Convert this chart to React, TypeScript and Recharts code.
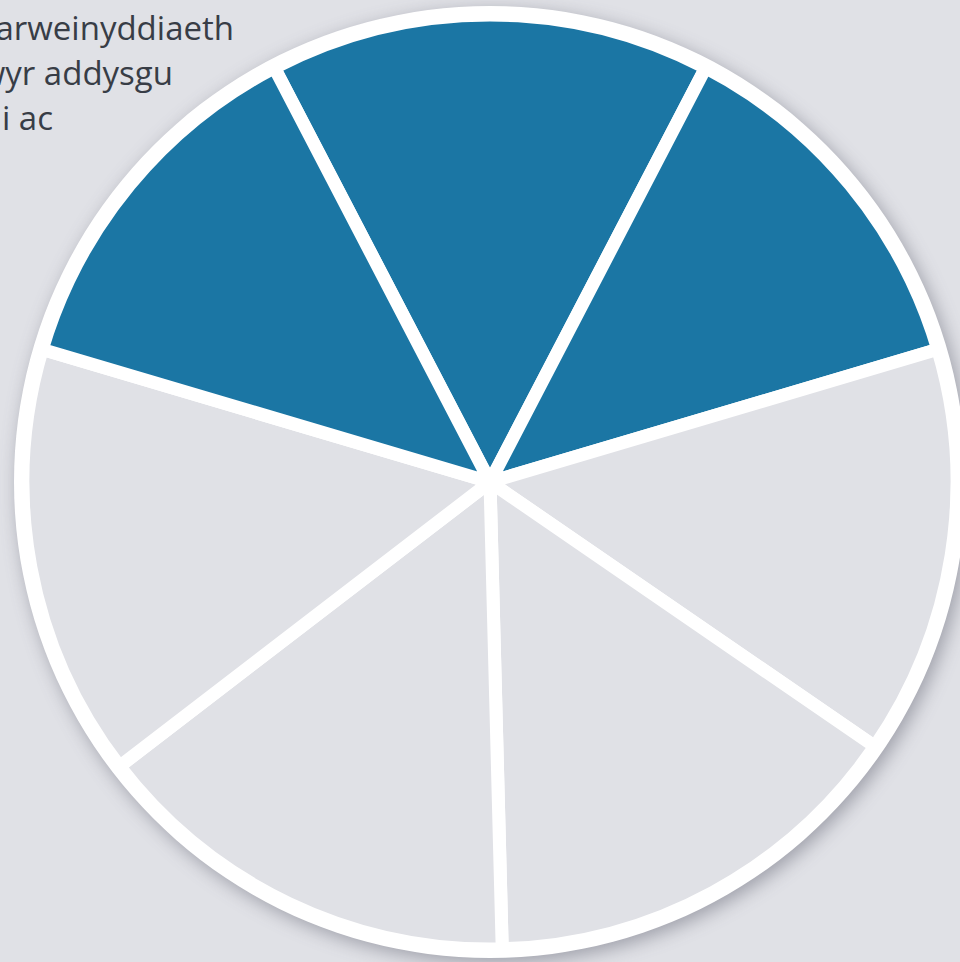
import { PieChart, Pie, Cell } from 'recharts'

// slice sizes in degrees, clockwise from the top-left blue boundary
const slices = ['top', 'upperRight', 'right', 'lowerRight', 'lowerLeft', 'left', 'upperLeft']
const sliceValues = [55, 46, 51, 54, 54, 54, 46]
const highlighted = [true, true, false, false, false, false, true]
const captionLines = ['arweinyddiaeth', 'wyr addysgu', 'i ac']
const captionEnds = [234, 173, 53]

const BLUE = '#1b76a4'
const GREY = '#e0e1e6'

const data = slices.map((name, i) => ({ name, value: sliceValues[i], hi: highlighted[i] }))
const disc = [{ name: 'disc', value: 1 }]

export default function App() {
  return (
    <div
      style={{
        position: 'fixed',
        left: 0,
        top: 0,
        width: 960,
        height: 962,
        background: GREY,
        overflow: 'hidden',
      }}
    >
      {captionLines.map((t, i) => (
        <div
          key={i}
          style={{
            position: 'absolute',
            right: 960 - captionEnds[i],
            top: 5 + i * 45,
            whiteSpace: 'nowrap',
            fontFamily: '"Open Sans", sans-serif',
            fontSize: 33,
            lineHeight: '45px',
            color: '#383d46',
          }}
        >
          {t}
        </div>
      ))}
      <div style={{ position: 'absolute', left: 0, top: 0, filter: 'drop-shadow(4px 5px 9px rgba(60,62,80,0.4))' }}>
        <PieChart width={960} height={962} margin={{ top: 0, right: 0, bottom: 0, left: 0 }}>
          <Pie
            data={disc}
            dataKey="value"
            cx={490}
            cy={482}
            innerRadius={0}
            outerRadius={476}
            fill="#ffffff"
            stroke="none"
            isAnimationActive={false}
          />
          <Pie
            data={data}
            dataKey="value"
            cx={490}
            cy={482}
            innerRadius={0}
            outerRadius={467}
            startAngle={117.5}
            endAngle={117.5 - 360}
            stroke="#ffffff"
            strokeWidth={13}
            isAnimationActive={false}
          >
            {data.map((d, i) => (
              <Cell key={i} fill={d.hi ? BLUE : GREY} stroke="#ffffff" strokeWidth={13} />
            ))}
          </Pie>
        </PieChart>
      </div>
    </div>
  )
}
